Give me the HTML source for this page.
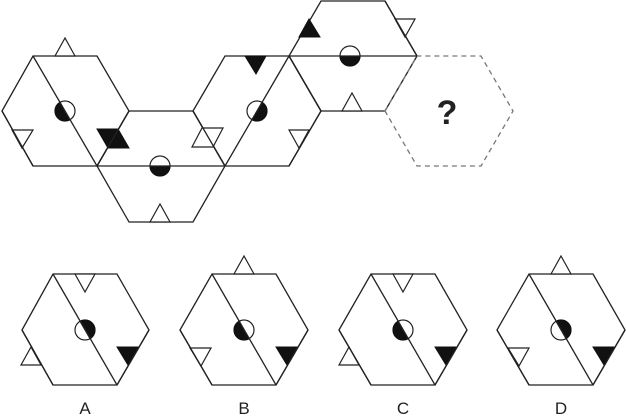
<!DOCTYPE html>
<html><head><style>body{margin:0;background:#fff}svg{display:block}</style></head><body>
<svg width="626" height="419" viewBox="0 0 626 419" xmlns="http://www.w3.org/2000/svg">
<g fill="none" stroke="#222" stroke-width="1.3">
<polygon points="2,111 33,56 97,56 129,111 97,166 33,166"/>
<polygon points="97,166 129,111 193,111 225,166 193,222 129,222"/>
<polygon points="193,111 225,56 289,56 321,111 289,166 225,166"/>
<polygon points="289,56 321,1 385,1 417,56 385,111 321,111"/>
<polygon points="385,111 417,56 481,56 513,111 481,166 417,166" stroke="#777" stroke-dasharray="5,4"/>
<polygon points="22,330 53,274 117,274 149,330 117,385 53,385"/>
<polygon points="180,330 212,274 276,274 308,330 276,385 212,385"/>
<polygon points="339,330 371,274 435,274 467,330 435,385 371,385"/>
<polygon points="497,330 529,274 593,274 625,330 593,385 529,385"/>
</g>
<g fill="#fff" stroke="#222" stroke-width="1.2">
<polygon points="55,56 75,56 65,38"/>
<polygon points="12,130 33,130 22,148"/>
<polygon points="150,222 170,222 160,204"/>
<polygon points="202,128 223,128 213,147 192,147"/>
<polygon points="289,130 309,130 299,148"/>
<polygon points="395,19 415,19 405,37"/>
<polygon points="342,111 362,111 352,93"/>
<polygon points="75,274 95,274 85,292"/>
<polygon points="21,365 41,365 31,347"/>
<polygon points="234,274 254,274 244,256"/>
<polygon points="190,348 211,348 201,366"/>
<polygon points="393,274 413,274 403,292"/>
<polygon points="339,365 359,365 349,347"/>
<polygon points="551,274 571,274 561,256"/>
<polygon points="508,348 529,348 519,366"/>
<circle cx="65" cy="111" r="10"/>
<circle cx="160" cy="166" r="10"/>
<circle cx="257" cy="111" r="10"/>
<circle cx="350" cy="56" r="10"/>
<circle cx="85" cy="330" r="10"/>
<circle cx="244" cy="330" r="10"/>
<circle cx="403" cy="330" r="10"/>
<circle cx="561" cy="330" r="10"/>
</g>
<g fill="#111" stroke="#111" stroke-width="1">
<polygon points="97,129 118,129 129,148 108,148"/>
<polygon points="245,56 266,56 256,74"/>
<polygon points="299,37 320,37 309,19"/>
<polygon points="117,347 138,347 128,365"/>
<polygon points="276,347 297,347 287,365"/>
<polygon points="435,347 456,347 446,365"/>
<polygon points="593,347 614,347 604,365"/>
<path d="M60,102.34 A10,10 0 0 0 70,119.66 Z"/>
<path d="M150,166 A10,10 0 0 0 170,166 Z"/>
<path d="M262,102.34 A10,10 0 0 1 252,119.66 Z"/>
<path d="M340,56 A10,10 0 0 0 360,56 Z"/>
<path d="M80,321.34 A10,10 0 0 1 90,338.66 Z"/>
<path d="M239,321.34 A10,10 0 0 0 249,338.66 Z"/>
<path d="M398,321.34 A10,10 0 0 0 408,338.66 Z"/>
<path d="M556,321.34 A10,10 0 0 1 566,338.66 Z"/>
</g>
<g stroke="#222" stroke-width="1.3">
<line x1="33" y1="56" x2="97" y2="166"/>
<line x1="97" y1="166" x2="225" y2="166"/>
<line x1="225" y1="166" x2="289" y2="56"/>
<line x1="289" y1="56" x2="417" y2="56"/>
<line x1="53" y1="274" x2="117" y2="385"/>
<line x1="212" y1="274" x2="276" y2="385"/>
<line x1="371" y1="274" x2="435" y2="385"/>
<line x1="529" y1="274" x2="593" y2="385"/>
<line x1="2" y1="111" x2="33" y2="166"/>
<line x1="289" y1="56" x2="321" y2="111"/>
<line x1="193" y1="111" x2="225" y2="166"/>
<line x1="97" y1="166" x2="129" y2="111"/>
<line x1="117" y1="385" x2="149" y2="330"/>
<line x1="276" y1="385" x2="308" y2="330"/>
<line x1="435" y1="385" x2="467" y2="330"/>
<line x1="593" y1="385" x2="625" y2="330"/>
<line x1="22" y1="330" x2="53" y2="385"/>
<line x1="180" y1="330" x2="212" y2="385"/>
<line x1="339" y1="330" x2="371" y2="385"/>
<line x1="497" y1="330" x2="529" y2="385"/>
<line x1="385" y1="1" x2="417" y2="56"/>
<line x1="289" y1="166" x2="321" y2="111"/>
</g>
<g font-family="Liberation Sans, sans-serif" fill="#222" text-anchor="middle">
<text x="447" y="124" font-size="34" font-weight="bold">?</text>
<text x="85" y="414" font-size="17">A</text>
<text x="244" y="414" font-size="17">B</text>
<text x="403" y="414" font-size="17">C</text>
<text x="561" y="414" font-size="17">D</text>
</g>
</svg>
</body></html>
